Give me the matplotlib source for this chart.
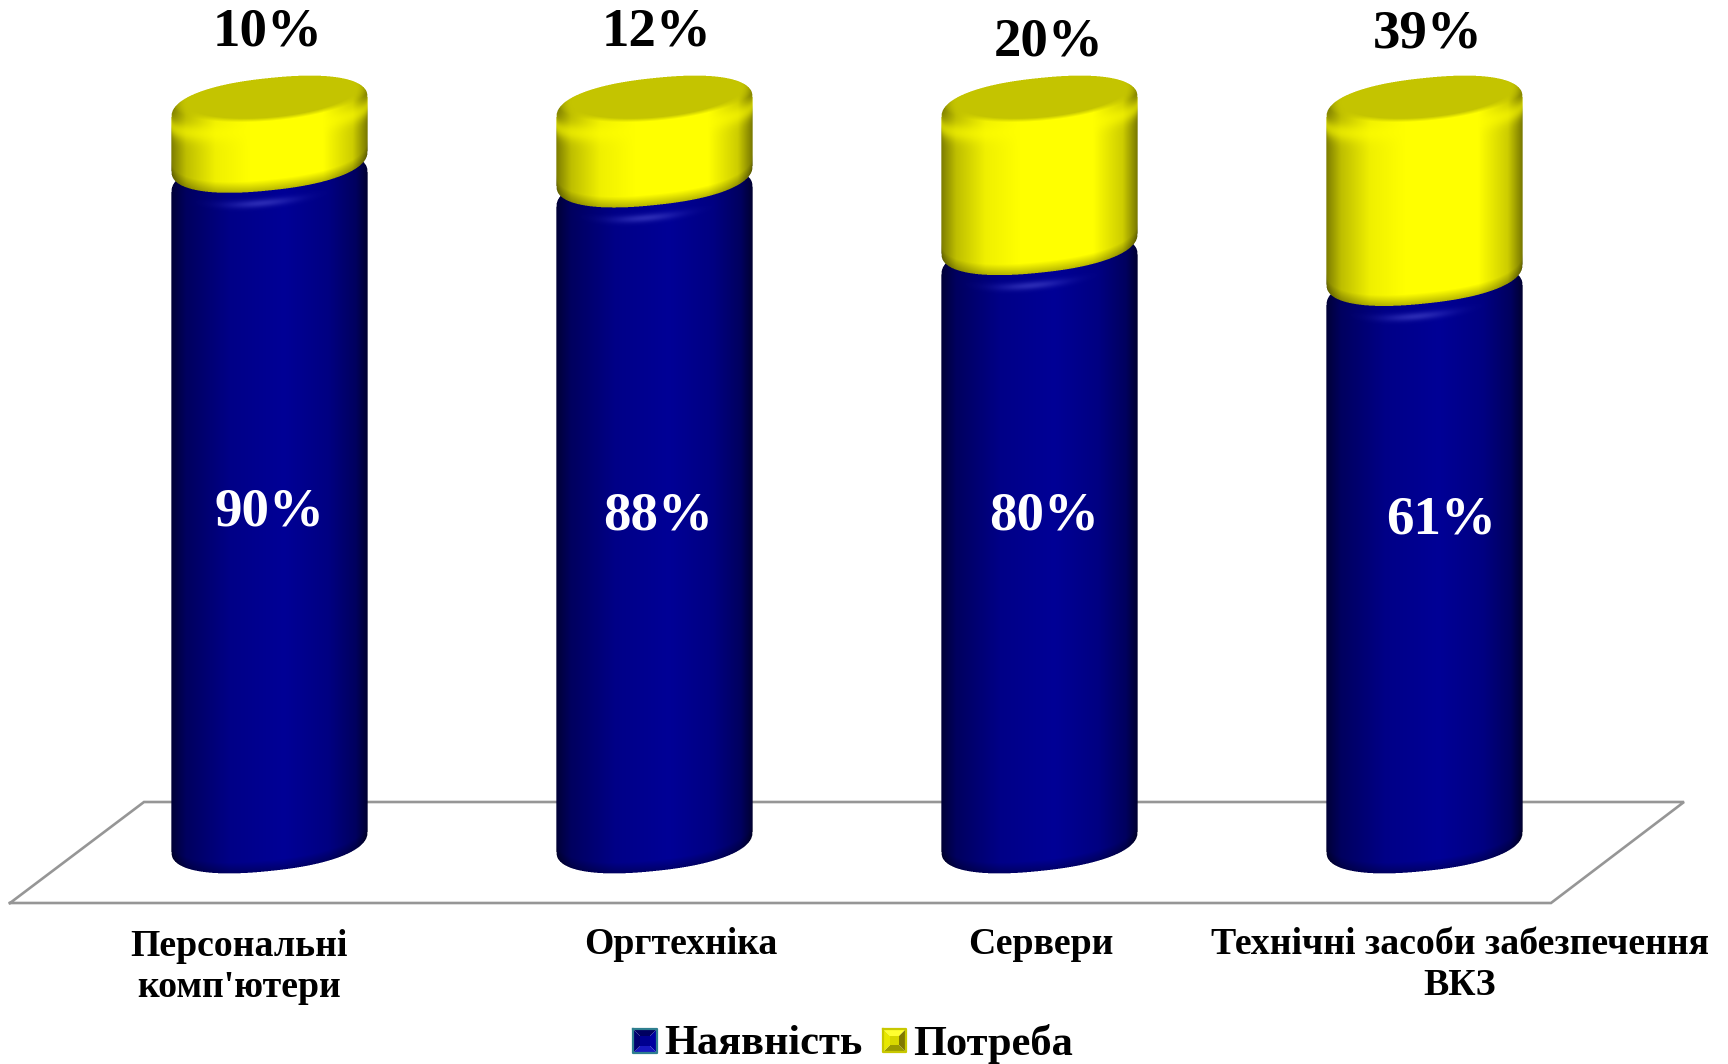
"""Stacked cylinder chart of IT equipment: available vs needed."""
import numpy as np
import matplotlib
matplotlib.use("Agg")
import matplotlib.pyplot as plt
from matplotlib.patches import Polygon

CATEGORIES = ["Персональні\nкомп'ютери", "Оргтехніка", "Сервери",
              "Технічні засоби забезпечення\nВКЗ"]
HAVE_LABELS = ["90%", "88%", "80%", "61%"]
NEED_LABELS = ["10%", "12%", "20%", "39%"]
# The heights in the picture do not follow the printed labels, so read them apart
HAVE_HEIGHTS = [92.6, 90.6, 81.4, 77.2]
TOTAL_HEIGHTS = [100, 100, 100, 100]
LEGEND_NAMES = ["Наявність", "Потреба"]

WIDTH, HEIGHT = 1728, 1064
FONT = "Liberation Serif"
# pixels of the reference: first bar centre, bar spacing, y of 0, pixels per percent
X0, DX = 269.5, 385.0
Y0, DY = 842.0, 7.35
A, B, K = 98.0, 29.0, 10.0  # half width, half height, tilt of the elliptical ends
ROUND = 2.3  # corners of the ends, 2 would be a plain ellipse
GAP = 2.8  # blue piece stops this far under the yellow one, hidden behind it

BLUE_X = [-1, -0.85, -0.4, 0.15, 0.6, 0.88, 1]
BLUE_C = [(0, 0, 55), (0, 0, 95), (0, 0, 135), (0, 0, 150), (0, 0, 130),
          (0, 0, 95), (0, 0, 50)]
YELLOW_X = [-1, -0.85, -0.55, -0.2, 0.55, 0.85, 1]
YELLOW_C = [(125, 125, 0), (190, 190, 0), (240, 240, 0), (255, 255, 0),
            (255, 255, 0), (205, 205, 0), (120, 120, 0)]
FACE_C = np.array([196, 196, 0.0])


def px_to_data(x, y):
    return (np.asarray(x) - X0) / DX, (Y0 - np.asarray(y)) / DY


def profile(u, stops, colors):
    colors = np.array(colors, dtype=float)
    return np.stack([np.interp(u, stops, colors[:, i]) for i in range(3)], axis=-1)


def end_curve(u):
    return np.clip(1 - np.abs(u) ** ROUND, 0, 1) ** (1 / ROUND)


def draw_segment(ax, idx, low, high, stops, colors, is_top=False, shine=None):
    """Draws one cylinder piece between the heights low and high."""
    cx = X0 + idx * DX
    y_low = Y0 - low * DY
    y_high = Y0 - high * DY
    x1, x2 = int(cx - A - 2), int(cx + A + 3)
    y1, y2 = int(y_high - B - 12), int(y_low + B + 12)

    # alpha on a finer grid, for smooth edges
    n = 3
    xs = (np.arange((x2 - x1) * n) + 0.5) / n + x1
    ys = (np.arange((y2 - y1) * n) + 0.5) / n + y1
    xx, yy = np.meshgrid(xs, ys)
    u = (xx - cx) / A
    root = end_curve(u)
    inside = (np.abs(u) <= 1) & (yy <= y_low + B * root - K * u) \
        & (yy >= y_high - B * root - K * u)
    alpha = inside.reshape(y2 - y1, n, x2 - x1, n).astype(float).mean(axis=(1, 3))

    xs = np.arange(x1, x2) + 0.5
    ys = np.arange(y1, y2) + 0.5
    xx, yy = np.meshgrid(xs, ys)
    u = np.clip((xx - cx) / A, -1, 1)
    root = end_curve(u)
    rgb = profile(u, stops, colors)

    # darker along the lower rim
    edge = y_low + B * root - K * u - yy
    rgb *= (0.72 + 0.28 * np.clip(edge / 11, 0, 1))[..., None]

    if is_top:
        # bright rim around the flat olive top
        band = np.exp(-((yy - (y_high + B * root * 0.55 + 7 - K * u)) / 9) ** 2)
        rgb = rgb + (np.array([255, 255, 0.0]) - rgb) * band[..., None] * 0.6
        fx, fy = cx + 2, y_high - 12
        dx = (xx - fx) / 92
        dy = (yy - fy + 8 * dx) / 24
        r = np.sqrt(dx ** 2 + dy ** 2)
        mix = np.clip((r - 0.92) / 0.16, 0, 1)[..., None]
        rgb = FACE_C + (rgb - FACE_C) * mix
    if shine is not None:
        # small shine under the piece lying on top
        shine_y = Y0 - shine * DY + B * root - K * u + 12
        glow = np.exp(-((xx - cx + 8) / 34) ** 2 - ((yy - shine_y) / 4) ** 2)
        rgb = rgb + (np.array([55, 55, 190.0]) - rgb) * glow[..., None] * 0.75

    rgba = np.dstack([np.clip(rgb, 0, 255) / 255, alpha])
    left, bottom = px_to_data(x1, y2)
    right, top = px_to_data(x2, y1)
    ax.imshow(rgba, extent=(left, right, bottom, top), aspect="auto",
              interpolation="nearest", zorder=3)


def draw_key(ax, x, y, size, shades, center, border):
    """Small pyramid shaped legend key, shades run top, right, bottom, left."""
    corners = np.array([(x, y), (x + size, y), (x + size, y + size), (x, y + size)],
                       dtype=float)
    inner = (corners - (x + size / 2, y + size / 2)) * 0.38 + (x + size / 2, y + size / 2)
    for i in range(4):
        j = (i + 1) % 4
        pts = np.array([corners[i], corners[j], inner[j], inner[i]])
        ax.add_patch(Polygon(np.column_stack(px_to_data(pts[:, 0], pts[:, 1])),
                             facecolor=shades[i], edgecolor="none", zorder=4))
    ax.add_patch(Polygon(np.column_stack(px_to_data(inner[:, 0], inner[:, 1])),
                         facecolor=center, edgecolor="none", zorder=4))
    pts = np.vstack([corners, corners[0]])
    ax.plot(*px_to_data(pts[:, 0], pts[:, 1]), color=border, lw=1.6, zorder=5)


fig = plt.figure(figsize=(WIDTH / 100, HEIGHT / 100), dpi=100)
ax = fig.add_axes([0, 0, 1, 1])

# floor of the 3D chart
floor_x = np.array([10, 144, 1684, 1551, 10])
floor_y = np.array([903, 802, 802, 903, 903])
ax.plot(*px_to_data(floor_x, floor_y), color="#969696", lw=1.9, zorder=1,
        solid_joinstyle="miter")

for i in range(len(CATEGORIES)):
    draw_segment(ax, i, 0, HAVE_HEIGHTS[i] - GAP, BLUE_X, BLUE_C,
                 shine=HAVE_HEIGHTS[i])
    draw_segment(ax, i, HAVE_HEIGHTS[i], TOTAL_HEIGHTS[i], YELLOW_X, YELLOW_C,
                 is_top=True)

need_pos = [(268, 32), (656, 32), (1049, 42), (1428, 34)]
have_pos = [(269, 513), (658, 517), (1044, 516), (1441, 521)]
cat_pos = [(239, 967), (681, 944), (1041, 944), (1460, 965)]
for i in range(len(CATEGORIES)):
    x, y = px_to_data(*need_pos[i])
    ax.text(x, y, NEED_LABELS[i], family=FONT, weight="bold", fontsize=39.5,
            color="black", ha="center", va="center", zorder=6)
    x, y = px_to_data(*have_pos[i])
    ax.text(x, y, HAVE_LABELS[i], family=FONT, weight="bold", fontsize=39.5,
            color="white", ha="center", va="center", zorder=6)
    x, y = px_to_data(*cat_pos[i])
    ax.text(x, y, CATEGORIES[i], family=FONT, weight="bold", fontsize=27.2,
            color="black", ha="center", va="center", linespacing=1.2, zorder=6)

draw_key(ax, 633, 1029, 24, ["#000060", "#0000a0", "#1818c0", "#000070"],
         "#000090", "#2f7f8f")
draw_key(ax, 883, 1029, 23, ["#ffff30", "#807800", "#9a9a00", "#e8e800"],
         "#d8d800", "#c8c800")
x, y = px_to_data(763, 1044)
ax.text(x, y, LEGEND_NAMES[0], family=FONT, weight="bold", fontsize=30.5,
        ha="center", va="center", zorder=6)
x, y = px_to_data(993, 1044)
ax.text(x, y, LEGEND_NAMES[1], family=FONT, weight="bold", fontsize=30.5,
        ha="center", va="center", zorder=6)

left, bottom = px_to_data(0, HEIGHT)
right, top = px_to_data(WIDTH, 0)
ax.set_xlim(left, right)
ax.set_ylim(bottom, top)
ax.axis("off")
fig.savefig("out.png", dpi=100, facecolor="white")
